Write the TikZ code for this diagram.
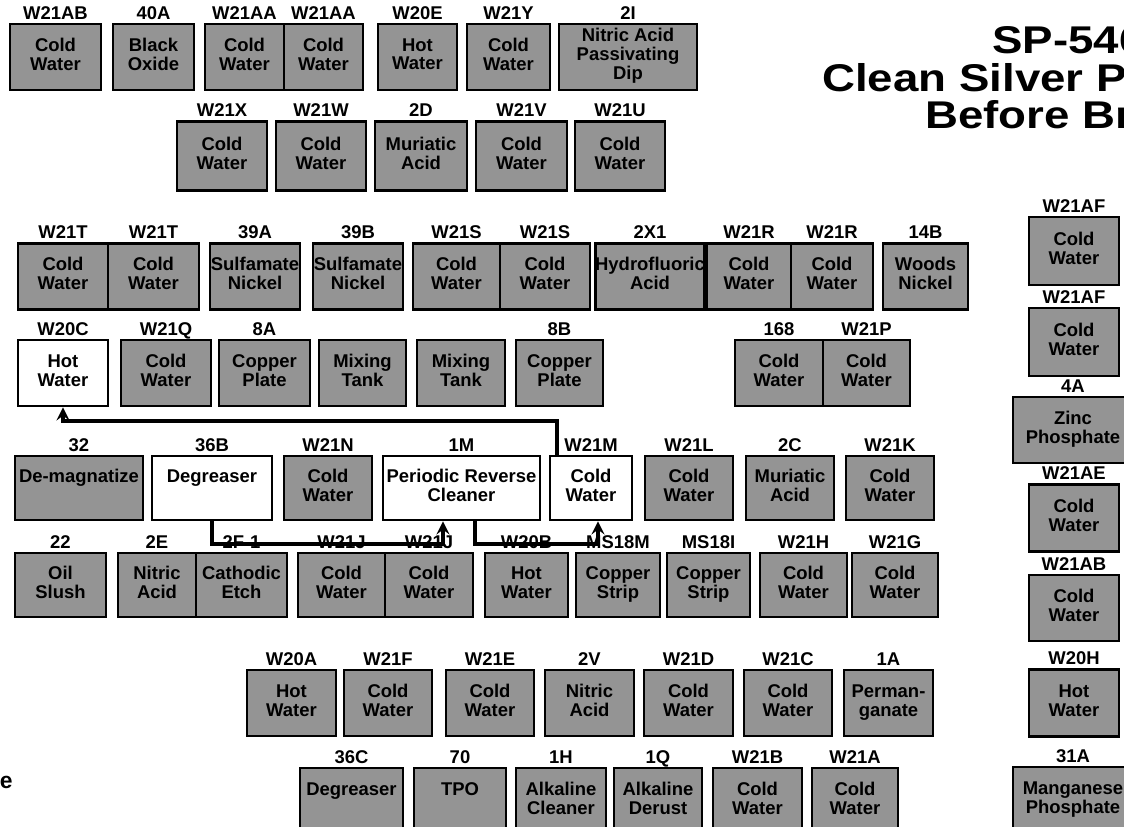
\documentclass[tikz,border=0pt]{standalone}
\usepackage{graphicx}
\usepackage{fontspec}
\setmainfont{Liberation Sans}
\usetikzlibrary{shapes,arrows}

\begin{document}
\begin{tikzpicture}[
    x=0.2mm, y=-0.2mm,
    tank/.style={draw, line width=1.6pt, fill=black!42, minimum width=17.6mm, minimum height=13.2mm, inner sep=0pt, align=center, font=\bfseries\fontsize{10.5}{10.8}\selectfont, execute at begin node=\strut, execute at end node=\strut},
    whitetank/.style={tank, fill=white},
    every label/.style={font=\bfseries\fontsize{10.5}{12}\selectfont, inner sep=1pt, text height=7.6pt, text depth=0.6pt},
    label distance=0pt,
    heading/.style={font=\bfseries\fontsize{22}{25}\selectfont, inner sep=0pt, anchor=base west},
    arrow/.style={line width=2.2pt,->,>=stealth}
]
    \useasboundingbox (0,0) rectangle (1124,826);

    % title (runs off the sheet)
    \node (t1) [heading] at (992,53) {\scalebox{1.18}[1]{SP-546}};
    \node (t2) [heading] at (822,91) {\scalebox{1.18}[1]{Clean Silver P}};
    \node (t3) [heading] at (925,128) {\scalebox{1.18}[1]{Before Br}};
    \node (t4) [font=\bfseries\fontsize{13}{15}\selectfont, inner sep=0pt, anchor=base east] at (13,788) {e};

    % row 1
    \node (w21ab) [tank, minimum width=18.2mm, label=above:W21AB] at (55.5,57) {Cold\\Water};
    \node (b40a) [tank, minimum width=16.2mm, label=above:40A] at (153.5,57) {Black\\Oxide};
    \node (w21aa) [tank, minimum width=15.8mm, label=above:W21AA] at (244.5,57) {Cold\\Water};
    \node (w21aa-2) [tank, minimum width=15.8mm, label=above:W21AA] at (323.5,57) {Cold\\Water};
    \node (w20e) [tank, minimum width=15.8mm, label=above:W20E] at (417.5,57) {Hot\\Water};
    \node (w21y) [tank, minimum width=16.6mm, label=above:W21Y] at (508.5,57) {Cold\\Water};
    \node (b2i) [tank, minimum width=27.6mm, label=above:2I] at (628,57) {Nitric Acid\\Passivating\\Dip};

    % row 2
    \node (w21x) [tank, minimum width=18mm, minimum height=13.8mm, label=above:W21X] at (222,156) {Cold\\Water};
    \node (w21w) [tank, minimum width=18mm, minimum height=13.8mm, label=above:W21W] at (321,156) {Cold\\Water};
    \node (b2d) [tank, minimum width=18.4mm, minimum height=13.8mm, label=above:2D] at (421,156) {Muriatic\\Acid};
    \node (w21v) [tank, minimum width=18.2mm, minimum height=13.8mm, label=above:W21V] at (521.5,156) {Cold\\Water};
    \node (w21u) [tank, minimum width=18mm, minimum height=13.8mm, label=above:W21U] at (620,156) {Cold\\Water};

    % row 3
    \node (w21t) [tank, minimum width=18mm, label=above:W21T] at (63,276.5) {Cold\\Water};
    \node (w21t-2) [tank, minimum width=18.2mm, label=above:W21T] at (153.5,276.5) {Cold\\Water};
    \node (b39a) [tank, minimum width=18mm, label=above:39A] at (255,276.5) {Sulfamate\\Nickel};
    \node (b39b) [tank, minimum width=18mm, label=above:39B] at (358,276.5) {Sulfamate\\Nickel};
    \node (w21s) [tank, minimum width=17.4mm, label=above:W21S] at (456.5,276.5) {Cold\\Water};
    \node (w21s-2) [tank, minimum width=18mm, label=above:W21S] at (545,276.5) {Cold\\Water};
    \node (b2x1) [tank, minimum width=18.8mm, label=above:2X1] at (650,276.5) {Hydrofluoric\\Acid};
    \node (w21r) [tank, minimum width=16.8mm, label=above:W21R] at (749,276.5) {Cold\\Water};
    \node (w21r-2) [tank, minimum width=16.4mm, label=above:W21R] at (832,276.5) {Cold\\Water};
    \node (b14b) [tank, minimum width=17mm, label=above:14B] at (925.5,276.5) {Woods\\Nickel};

    % row 4
    \node (w20c) [whitetank, minimum width=18mm, label=above:W20C] at (63,373) {Hot\\Water};
    \node (w21q) [tank, minimum width=18mm, label=above:W21Q] at (166,373) {Cold\\Water};
    \node (b8a) [tank, minimum width=18.2mm, label=above:8A] at (264.5,373) {Copper\\Plate};
    \node (mix1) [tank, minimum width=17.4mm] at (362.5,373) {Mixing\\Tank};
    \node (mix2) [tank, minimum width=17.6mm] at (461,373) {Mixing\\Tank};
    \node (b8b) [tank, minimum width=17.4mm, label=above:8B] at (559.5,373) {Copper\\Plate};
    \node (b168) [tank, minimum width=17.6mm, label=above:168] at (779,373) {Cold\\Water};
    \node (w21p) [tank, minimum width=17.4mm, label=above:W21P] at (866.5,373) {Cold\\Water};

    % row 5
    \node (b32) [tank, minimum width=25.6mm, minimum height=12.8mm, label=above:32] at (79,488) {De-magnatize\\~};
    \node (b36b) [whitetank, minimum width=24mm, minimum height=12.8mm, label=above:36B] at (212,488) {Degreaser\\~};
    \node (w21n) [tank, minimum width=17.6mm, minimum height=12.8mm, label=above:W21N] at (328,488) {Cold\\Water};
    \node (b1m) [whitetank, minimum width=31.4mm, minimum height=12.8mm, label=above:1M] at (461.5,488) {Periodic Reverse\\Cleaner};
    \node (w21m) [whitetank, minimum width=16.4mm, minimum height=12.8mm, label=above:W21M] at (591,488) {Cold\\Water};
    \node (w21l) [tank, minimum width=17.6mm, minimum height=12.8mm, label=above:W21L] at (689,488) {Cold\\Water};
    \node (b2c) [tank, minimum width=17.6mm, minimum height=12.8mm, label=above:2C] at (790,488) {Muriatic\\Acid};
    \node (w21k) [tank, minimum width=17.6mm, minimum height=12.8mm, label=above:W21K] at (890,488) {Cold\\Water};

    % row 6
    \node (b22) [tank, minimum width=18.2mm, minimum height=12.8mm, label=above:22] at (60.5,585) {Oil\\Slush};
    \node (b2e) [tank, minimum width=15.6mm, minimum height=12.8mm, label=above:2E] at (157,585) {Nitric\\Acid};
    \node (b2f1) [tank, minimum width=18.2mm, minimum height=12.8mm, label=above:2F-1] at (241.5,585) {Cathodic\\Etch};
    \node (w21j) [tank, minimum width=17.4mm, minimum height=12.8mm, label=above:W21J] at (341.5,585) {Cold\\Water};
    \node (w21j-2) [tank, minimum width=17.6mm, minimum height=12.8mm, label=above:W21J] at (429,585) {Cold\\Water};
    \node (w20b) [tank, minimum width=16.6mm, minimum height=12.8mm, label=above:W20B] at (526.5,585) {Hot\\Water};
    \node (ms18m) [tank, minimum width=16.8mm, minimum height=12.8mm, label=above:MS18M] at (618,585) {Copper\\Strip};
    \node (ms18i) [tank, minimum width=16.6mm, minimum height=12.8mm, label=above:MS18I] at (708.5,585) {Copper\\Strip};
    \node (w21h) [tank, minimum width=17.4mm, minimum height=12.8mm, label=above:W21H] at (803.5,585) {Cold\\Water};
    \node (w21g) [tank, minimum width=17.2mm, minimum height=12.8mm, label=above:W21G] at (895,585) {Cold\\Water};

    % row 7
    \node (w20a) [tank, minimum width=17.8mm, label=above:W20A] at (291.5,703) {Hot\\Water};
    \node (w21f) [tank, label=above:W21F] at (388,703) {Cold\\Water};
    \node (w21e) [tank, label=above:W21E] at (490,703) {Cold\\Water};
    \node (b2v) [tank, minimum width=17.8mm, label=above:2V] at (589.5,703) {Nitric\\Acid};
    \node (w21d) [tank, minimum width=17.8mm, label=above:W21D] at (688.5,703) {Cold\\Water};
    \node (w21c) [tank, label=above:W21C] at (788,703) {Cold\\Water};
    \node (b1a) [tank, minimum width=17.8mm, label=above:1A] at (888.5,703) {Perman-\\ganate};

    % row 8
    \node (b36c) [tank, minimum width=20.6mm, label=above:36C] at (351.5,801) {Degreaser\\~};
    \node (b70) [tank, minimum width=18.4mm, label=above:70] at (460,801) {TPO\\~};
    \node (b1h) [tank, minimum width=18mm, label=above:1H] at (561,801) {Alkaline\\Cleaner};
    \node (b1q) [tank, label=above:1Q] at (658,801) {Alkaline\\Derust};
    \node (w21b) [tank, minimum width=17.8mm, label=above:W21B] at (757.5,801) {Cold\\Water};
    \node (w21a) [tank, minimum width=17.2mm, label=above:W21A] at (855,801) {Cold\\Water};

    % right column
    \node (w21af) [tank, minimum width=18mm, minimum height=13.6mm, label=above:W21AF] at (1074,251) {Cold\\Water};
    \node (w21af-2) [tank, minimum width=18mm, minimum height=13.6mm, label=above:W21AF] at (1074,342) {Cold\\Water};
    \node (b4a) [tank, minimum width=24mm, label=above:4A] at (1073,430) {Zinc\\Phosphate};
    \node (w21ae) [tank, minimum width=18mm, minimum height=13.4mm, label=above:W21AE] at (1074,518) {Cold\\Water};
    \node (w21ab-2) [tank, minimum width=18mm, label=above:W21AB] at (1074,608) {Cold\\Water};
    \node (w20h) [tank, minimum width=18mm, minimum height=13.4mm, label=above:W20H] at (1074,703) {Hot\\Water};
    \node (b31a) [tank, minimum width=24mm, label=above:31A] at (1073,800) {Manganese\\Phosphate};

    \draw [arrow] ([xshift=-6.8mm]w21m.north) -- ++(0,-34) -| (w20c.south);
    \draw [arrow] (b36b.south) -- ++(0,23) -| ([xshift=-3.7mm]b1m.south);
    \draw [arrow] ([xshift=2.7mm]b1m.south) -- ++(0,23) -| ([xshift=1.4mm]w21m.south);
\end{tikzpicture}
\end{document}
